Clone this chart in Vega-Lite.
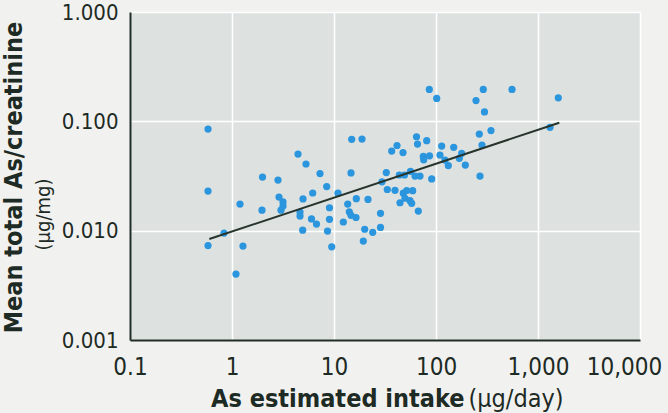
{
  "$schema": "https://vega.github.io/schema/vega-lite/v6.json",
  "width": 510,
  "height": 328,
  "autosize": {"type": "none"},
  "padding": {"left": 130, "top": 12, "right": 28, "bottom": 73},
  "background": "#f1f2f0",
  "config": {
    "view": {"fill": "#dde2e1", "stroke": null},
    "font": "DejaVu Sans Condensed, Liberation Sans Narrow, Roboto, sans-serif",
    "axis": {"labelFont": "DejaVu Sans Condensed, Liberation Sans Narrow, Roboto, sans-serif", "titleFont": "DejaVu Sans Condensed, Liberation Sans Narrow, Roboto, sans-serif", "labelColor": "#1e2a24", "titleColor": "#1e2a24"}
  },
  "datasets": {
    "pts": [
      {"intake": 0.582, "ratio": 0.0850}, {"intake": 0.582, "ratio": 0.0230}, {"intake": 0.835, "ratio": 0.00951},
      {"intake": 0.582, "ratio": 0.00731}, {"intake": 1.281, "ratio": 0.00723}, {"intake": 1.094, "ratio": 0.00401},
      {"intake": 1.198, "ratio": 0.0175}, {"intake": 1.991, "ratio": 0.0309}, {"intake": 1.968, "ratio": 0.0154},
      {"intake": 2.825, "ratio": 0.0290}, {"intake": 2.889, "ratio": 0.0203}, {"intake": 3.162, "ratio": 0.0183},
      {"intake": 3.162, "ratio": 0.0168}, {"intake": 3.022, "ratio": 0.0154}, {"intake": 4.437, "ratio": 0.0502},
      {"intake": 5.315, "ratio": 0.0407}, {"intake": 4.968, "ratio": 0.0195}, {"intake": 4.642, "ratio": 0.0148},
      {"intake": 4.642, "ratio": 0.0136}, {"intake": 4.933, "ratio": 0.0101}, {"intake": 6.183, "ratio": 0.0221},
      {"intake": 6.018, "ratio": 0.0128}, {"intake": 6.735, "ratio": 0.0115}, {"intake": 7.291, "ratio": 0.0333},
      {"intake": 8.478, "ratio": 0.0253}, {"intake": 10.94, "ratio": 0.0220}, {"intake": 14.68, "ratio": 0.0337},
      {"intake": 9.03, "ratio": 0.0162}, {"intake": 9.03, "ratio": 0.0127}, {"intake": 8.636, "ratio": 0.00992},
      {"intake": 9.50, "ratio": 0.00712}, {"intake": 12.34, "ratio": 0.0120}, {"intake": 13.63, "ratio": 0.0175},
      {"intake": 16.54, "ratio": 0.0196}, {"intake": 14.13, "ratio": 0.0149}, {"intake": 14.68, "ratio": 0.0138},
      {"intake": 16.43, "ratio": 0.0132}, {"intake": 21.54, "ratio": 0.0193}, {"intake": 20.0, "ratio": 0.0103},
      {"intake": 19.38, "ratio": 0.00803}, {"intake": 23.96, "ratio": 0.00965}, {"intake": 28.57, "ratio": 0.0144},
      {"intake": 28.57, "ratio": 0.0107}, {"intake": 32.56, "ratio": 0.0340}, {"intake": 29.55, "ratio": 0.0280},
      {"intake": 33.30, "ratio": 0.0238}, {"intake": 39.63, "ratio": 0.0234}, {"intake": 43.68, "ratio": 0.0323},
      {"intake": 49.12, "ratio": 0.0323}, {"intake": 44.37, "ratio": 0.0180}, {"intake": 14.91, "ratio": 0.0684},
      {"intake": 18.82, "ratio": 0.0689}, {"intake": 36.79, "ratio": 0.0535}, {"intake": 41.47, "ratio": 0.0601},
      {"intake": 47.49, "ratio": 0.0518}, {"intake": 56.23, "ratio": 0.0349}, {"intake": 62.27, "ratio": 0.0316},
      {"intake": 69.69, "ratio": 0.0316}, {"intake": 90.74, "ratio": 0.0297}, {"intake": 47.81, "ratio": 0.0220},
      {"intake": 51.60, "ratio": 0.0233}, {"intake": 59.10, "ratio": 0.0232}, {"intake": 49.68, "ratio": 0.0198},
      {"intake": 55.61, "ratio": 0.0188}, {"intake": 57.78, "ratio": 0.0178}, {"intake": 67.07, "ratio": 0.0151},
      {"intake": 85.97, "ratio": 0.196}, {"intake": 101.6, "ratio": 0.162}, {"intake": 290.9, "ratio": 0.196},
      {"intake": 246.7, "ratio": 0.155}, {"intake": 298.9, "ratio": 0.122}, {"intake": 556, "ratio": 0.196},
      {"intake": 1581, "ratio": 0.164}, {"intake": 1312, "ratio": 0.0881}, {"intake": 346.1, "ratio": 0.0824},
      {"intake": 265.8, "ratio": 0.0765}, {"intake": 282.5, "ratio": 0.0607}, {"intake": 64.41, "ratio": 0.0723},
      {"intake": 65.88, "ratio": 0.0620}, {"intake": 81.05, "ratio": 0.0665}, {"intake": 113.7, "ratio": 0.0594},
      {"intake": 149.1, "ratio": 0.0578}, {"intake": 178.6, "ratio": 0.0510}, {"intake": 169.2, "ratio": 0.0459},
      {"intake": 193.8, "ratio": 0.0398}, {"intake": 132.0, "ratio": 0.0394}, {"intake": 109.4, "ratio": 0.0492},
      {"intake": 122.5, "ratio": 0.0442}, {"intake": 75.06, "ratio": 0.0478}, {"intake": 86.37, "ratio": 0.0484},
      {"intake": 75.74, "ratio": 0.0445}, {"intake": 270.0, "ratio": 0.0316}
    ],
    "fit": [
      {"intake": 0.599, "ratio": 0.00838},
      {"intake": 1618, "ratio": 0.0971}
    ]
  },
  "layer": [
    {
      "data": {"name": "pts"},
      "mark": {"type": "circle", "size": 52, "color": "#2b95dd", "opacity": 1},
      "encoding": {
        "x": {
          "field": "intake", "type": "quantitative",
          "scale": {"type": "log", "domain": [0.1, 10000], "nice": false},
          "axis": {
            "values": [0.1, 1, 10, 100, 1000, 10000], "format": ",~f",
            "ticks": false, "labelPadding": 15, "labelFontSize": 24, "labelFlush": false,
            "labelOffset": {"condition": {"test": "datum.value >= 10000", "value": -16}, "value": 0},
            "domainColor": "#1f2d27", "domainWidth": 2,
            "grid": true, "gridColor": "#ffffff", "gridWidth": 1.5,
            "title": "As estimated intake", "titleFontSize": 25, "titleFontWeight": "bold",
            "titleX": 334, "titleY": 66, "titleAlign": "right", "titleBaseline": "alphabetic", "titleAnchor": null
          }
        },
        "y": {
          "field": "ratio", "type": "quantitative",
          "scale": {"type": "log", "domain": [0.001, 1], "nice": false},
          "axis": {
            "values": [0.001, 0.01, 0.1, 1], "format": ".3f",
            "ticks": false, "labelPadding": 12, "labelFontSize": 22, "labelFlush": false,
            "domainColor": "#1f2d27", "domainWidth": 2,
            "grid": true, "gridColor": "#ffffff", "gridWidth": 1.5,
            "title": "(µg/mg)", "titleFontSize": 20, "titleFontWeight": "normal",
            "titleX": -87, "titleY": 202, "titleAngle": -90, "titleAlign": "center", "titleBaseline": "middle"
          }
        }
      }
    },
    {
      "data": {"name": "fit"},
      "mark": {"type": "line", "color": "#26342c", "strokeWidth": 2},
      "encoding": {
        "x": {
          "field": "intake", "type": "quantitative",
          "scale": {"type": "log", "domain": [0.1, 10000], "nice": false},
          "axis": {
            "orient": "bottom", "labels": false, "ticks": false, "domain": false, "grid": false,
            "title": "(µg/day)", "titleFontSize": 25, "titleFontWeight": "normal",
            "titleX": 338, "titleY": 66, "titleAlign": "left", "titleBaseline": "alphabetic"
          }
        },
        "y": {
          "field": "ratio", "type": "quantitative",
          "scale": {"type": "log", "domain": [0.001, 1], "nice": false},
          "axis": {
            "orient": "left", "labels": false, "ticks": false, "domain": false, "grid": false,
            "title": "Mean total As/creatinine", "titleFontSize": 25, "titleFontWeight": "bold",
            "titleX": -117, "titleY": 165, "titleAngle": -90, "titleAlign": "center", "titleBaseline": "middle"
          }
        }
      }
    }
  ],
  "resolve": {"axis": {"x": "independent", "y": "independent"}}
}
